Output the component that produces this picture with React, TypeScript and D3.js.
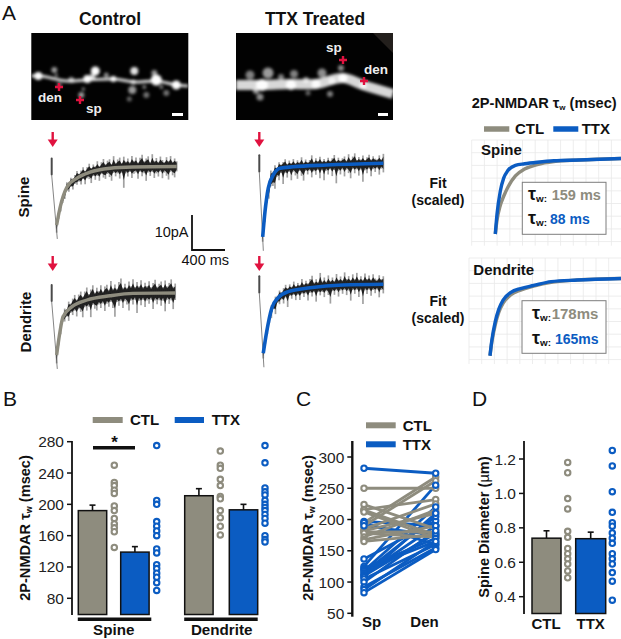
import React from "react";
import * as d3 from "d3";

const GRAY = "#8e8c7e";
const BLUE = "#0b5cc2";
const RED = "#e0123f";
const FONT = "'Liberation Sans', Arial, sans-serif";

// Panel B
const barGroupsB = ["Spine", "Dendrite"];
const barsCtlB = [192, 211];
const barsTtxB = [139, 193];
const errCtlB = [199, 220];
const errTtxB = [146, 200];
const ptsCtlSpine = [250, 228, 224, 218, 214, 198, 192, 182, 175, 170, 165, 145];
const ptsTtxSpine = [275, 205, 200, 178, 172, 166, 160, 143, 138, 123, 118, 112, 107, 100, 90];
const ptsCtlDend = [268, 250, 246, 232, 224, 210, 207, 192, 183, 172, 161];
const ptsTtxDend = [275, 253, 221, 216, 212, 205, 200, 196, 192, 187, 182, 176, 160, 155, 152];
const ticksB = [80, 120, 160, 200, 240, 280];

// Panel C
const ctlSp = [250, 224, 216, 215, 212, 195, 190, 185, 182, 180, 178, 172, 168, 165];
const ctlDen = [250, 185, 232, 175, 170, 268, 262, 225, 210, 180, 172, 215, 190, 176];
const ttxSp = [282, 197, 195, 190, 137, 125, 122, 120, 118, 115, 112, 110, 108, 105, 100, 92, 88, 83];
const ttxDen = [274, 190, 160, 175, 198, 255, 170, 165, 220, 205, 190, 178, 210, 160, 182, 155, 165, 152];
const ticksC = [50, 100, 150, 200, 250, 300];

// Panel D
const diamBars = [0.74, 0.737];
const diamErr = [0.783, 0.775];
const diamLabels = ["CTL", "TTX"];
const diamCtl = [1.18, 1.12, 0.97, 0.91, 0.78, 0.745, 0.68, 0.65, 0.62, 0.59, 0.55, 0.51];
const diamTtx = [1.25, 1.16, 1.01, 0.89, 0.83, 0.81, 0.77, 0.74, 0.71, 0.65, 0.62, 0.59, 0.54, 0.49, 0.38];
const ticksD = [0.4, 0.6, 0.8, 1.0, 1.2];

// Recorded traces (time ms, current pA, read against the 400 ms / 10 pA scale bar)
const fitTimeCS = [60, 100, 185, 307, 464, 707, 985, 1515];
const fitCS = [-16.7, -11.9, -5.9, -3.3, -1.6, -0.5, -0.15, 0];
const fitTimeCD = [60, 100, 137, 246, 428, 707, 985, 1497];
const fitCD = [-17.7, -11.1, -6.8, -3.9, -2, -0.8, -0.1, 0];
const fitTimeTS = [41, 69, 109, 170, 251, 408, 817, 1504];
const fitTS = [-21, -13.8, -7.1, -3.3, -1.4, -1, -0.5, 0];
const fitTimeTD = [48, 90, 150, 230, 351, 615, 1015, 1503];
const fitTD = [-19.7, -13.5, -6.9, -3.8, -2.1, -1, -0.2, 0];

const upCS = [0.5,0.7,0.5,1.0,0.6,1.5,0.8,1.7,0.9,1.4,2.0,1.0,1.6,2.3,1.0,1.8,2.5,1.1,2.0,1.4,2.7,1.2,2.2,3.0,1.4,2.3,2.6,1.2,3.4,1.5,2.4,2.9,1.3,3.1,1.7,2.5,1.4,3.2,1.8,2.7,1.3,2.6,3.5,1.6,2.4,3.0,1.3,3.6,1.7,2.5,1.4,2.9,1.9,1.3,2.7,1.6,3.0,1.4,2.3,1.5];
const dnCS = [2.2,1.2,1.6,0.9,1.5,1.0,1.8,1.0,2.2,1.2,1.9,1.3,2.4,1.1,2.8,1.4,1.9,3.2,1.3,2.5,1.5,3.0,1.2,2.3,2.8,1.5,2.5,3.6,1.4,2.4,1.6,3.1,1.5,5.8,1.7,2.6,1.4,3.1,1.9,1.6,3.4,1.4,2.7,1.8,4.0,1.6,2.6,1.5,3.2,1.9,2.8,1.4,3.3,1.7,2.6,3.7,1.5,2.5,3.1,1.4];
const upCD = [0.6,0.8,1.3,0.8,1.8,1.0,2.5,1.3,2.2,3.0,1.4,2.6,3.2,1.5,2.7,3.6,1.6,2.8,3.9,1.7,3.0,1.9,3.5,1.6,2.9,3.3,1.8,4.2,2.0,3.1,1.8,3.7,4.6,1.9,3.0,1.8,3.5,2.1,4.0,1.8,3.2,2.0,3.7,1.8,3.0,2.1,3.4,1.7,2.9,3.8,1.8,2.7,3.3,1.7,3.6,1.9,2.9,3.9,1.8,2.7];
const dnCD = [2.4,1.3,1.7,1.0,1.9,1.2,3.0,1.4,2.5,1.5,3.4,1.6,2.6,4.4,1.8,3.0,2.0,5.1,1.7,2.9,3.5,1.9,3.0,1.8,4.1,2.1,3.1,1.8,3.6,6.1,2.0,3.1,1.9,3.9,2.0,3.0,4.8,2.0,3.2,1.8,5.6,2.1,3.4,1.9,3.9,2.1,3.0,1.9,4.5,2.1,3.2,2.0,3.6,2.2,5.2,1.9,3.1,2.1,4.6,2.0];
const upTS = [0.7,1.3,2.5,1.1,3.1,1.2,2.3,1.0,2.0,1.0,1.7,2.4,1.0,1.9,1.1,2.2,1.0,1.8,1.2,2.6,1.0,1.9,1.1,1.7,3.0,1.1,2.1,1.3,2.5,1.1,1.8,1.0,2.1,1.2,1.9,2.8,1.1,2.0,1.2,1.8,2.3,1.1,2.9,1.3,2.2,3.1,1.2,2.0,1.3,2.4,1.1,1.9,2.6,1.2,2.1,1.4,1.2,2.3,1.1,2.7];
const dnTS = [1.4,2.2,1.1,3.4,1.4,2.9,4.4,1.6,3.2,1.4,4.6,1.5,2.9,1.3,3.8,1.4,2.5,3.5,1.3,2.7,4.1,1.4,2.4,1.3,3.3,1.6,2.6,1.3,3.7,1.4,4.3,1.6,2.7,1.3,3.2,1.5,5.3,1.7,2.8,1.4,3.4,1.5,2.5,4.0,1.4,2.6,1.5,3.3,1.6,5.1,1.8,2.7,1.4,3.6,1.6,2.4,1.4,3.2,1.5,2.6];
const upTD = [0.4,0.7,1.0,0.7,1.3,0.8,1.6,0.9,1.8,1.0,1.8,2.4,1.1,2.0,1.2,2.6,1.2,2.0,1.3,2.9,1.3,2.2,1.4,2.5,3.4,1.4,2.3,1.4,4.0,1.5,2.6,1.4,3.1,1.5,2.4,1.4,3.3,1.6,2.5,1.4,3.6,1.7,2.5,1.4,3.0,1.6,3.4,1.5,2.4,1.4,3.2,1.6,2.6,1.4,2.9,1.7,1.4,2.6,1.5,2.3];
const dnTD = [1.5,0.9,1.5,1.0,2.4,1.0,3.4,1.2,2.1,1.1,2.6,1.2,4.3,1.3,2.2,1.2,2.8,1.4,3.0,1.3,2.3,1.4,3.5,1.4,2.5,1.4,4.1,1.4,2.4,1.5,3.0,1.4,2.5,5.0,1.5,2.6,1.4,3.2,1.5,2.5,1.4,2.9,1.6,4.5,1.5,2.6,1.4,3.5,1.6,5.5,1.6,2.7,1.5,3.2,1.6,2.5,1.5,3.7,1.6,2.6];

// Scaled fits (panels at right): time ms, fraction of peak
const scaledTime = [0, 20, 60, 100, 150, 240, 350, 500, 700, 1000, 1500];
const scaledSpineCtl = [0, 0.18, 0.38, 0.5, 0.62, 0.77, 0.86, 0.92, 0.96, 0.98, 1];
const scaledSpineTtx = [0, 0.26, 0.57, 0.74, 0.84, 0.91, 0.93, 0.95, 0.97, 0.98, 1];
const scaledDendCtl = [0, 0.17, 0.4, 0.56, 0.68, 0.79, 0.85, 0.9, 0.95, 0.98, 1];
const scaledDendTtx = [0, 0.19, 0.44, 0.6, 0.72, 0.82, 0.87, 0.91, 0.96, 0.98, 1];

// Microscope images: dendrite paths and puncta (x, y in image px, r, brightness)
type Blob = [number, number, number, number];
const dendControl: [number, number][] = [[0, 43], [10, 43], [35, 48], [55, 47], [83, 46], [103, 49], [125, 48], [145, 52], [157, 53]];
const dendTtx: [number, number][] = [[0, 52], [27, 52], [54, 51], [80, 51], [107, 45], [127, 52], [157, 61]];
const blobsControl: Blob[] = [
  [7, 43, 4, 1], [23, 37, 3, 0.6], [25, 42, 1.5, 0.6], [56, 46, 4, 1], [64, 38, 4.5, 1], [61, 44, 3, 0.8],
  [82, 46, 3, 1], [103, 38, 4, 0.9], [125, 47, 5.5, 1], [123, 40, 3, 0.6], [101, 57, 4, 0.6], [102, 49, 2.5, 0.7],
  [115, 62, 3, 0.45], [113, 54, 2, 0.5], [135, 60, 3, 0.45], [130, 54, 2, 0.5], [145, 52, 4.5, 1], [50, 62, 3, 0.6],
  [52, 56, 1.6, 0.6], [28, 52, 2.5, 0.45], [75, 42, 2.5, 0.55], [98, 66, 2.5, 0.4], [40, 47, 3, 0.6],
];
const blobsTtx: Blob[] = [
  [32, 40, 5.5, 0.6], [14, 42, 4.5, 0.5], [26, 52, 6, 0.95], [24, 64, 3.5, 0.55], [58, 41, 4, 0.5], [55, 52, 5, 0.95],
  [86, 40, 4.5, 0.55], [80, 51, 4.5, 0.9], [94, 61, 3, 0.5], [107, 45, 4.5, 1], [105, 35, 3, 0.55], [127, 53, 3.5, 0.75],
  [70, 47, 3, 0.6], [45, 44, 3, 0.5], [72, 60, 2.5, 0.4], [20, 58, 3, 0.6], [96, 48, 3.5, 0.7],
];

const WIDTH = 621;
const HEIGHT = 639;

function Tau({ x, y, size = 14, fill = "#111" }: { x: number; y: number; size?: number; fill?: string }) {
  return (
    <text x={x} y={y} fontFamily={FONT} fontWeight={700} fontSize={size} fill={fill}>
      τ<tspan fontSize={size * 0.55} dy={2}>w:</tspan>
    </text>
  );
}

function TraceView(props: {
  x0: number; y0: number; t: number[]; v: number[]; up: number[]; dn: number[]; color: string;
}) {
  const { x0, y0, t, v, up, dn, color } = props;
  const x = d3.scaleLinear().domain([0, 400]).range([x0, x0 + 33]);
  const y = d3.scaleLinear().domain([-10, 0]).range([y0 + 35, y0]);
  const fitAt = d3.scaleLinear().domain(t).range(v);
  const first = t[0];
  const last = t[t.length - 1];
  const times = up.map((_, i) => first + (i * (last - first)) / (up.length - 1));
  const core = d3.area<number>().x((_, i) => x(times[i])).y0((_, i) => y(fitAt(times[i]) - dn[i] * 0.62)).y1((_, i) => y(fitAt(times[i]) + up[i] * 0.72));
  const fit = d3.line<number>().x((_, i) => x(t[i])).y((d) => y(d)).curve(d3.curveMonotoneX);
  return (
    <g>
      <rect x={x(-12)} y={y(2.6)} width={x(12) - x(-12)} height={y(-2.6) - y(2.6)} rx={1} fill="#2a2a2a" opacity={0.85} />
      <line x1={x(0)} x2={x(first + 8)} y1={y(-2.5)} y2={y(v[0] - 4)} stroke="#666" strokeWidth={0.8} />
      {up.map((u, i) => (
        <line key={i} x1={x(times[i])} x2={x(times[i])} y1={y(fitAt(times[i]) + u)} y2={y(fitAt(times[i]) - dn[i])} stroke="#555" strokeWidth={1.7} opacity={0.55} />
      ))}
      <path d={core(up) ?? ""} fill="#0c0c0c" opacity={0.88} />
      <path d={fit(v) ?? ""} fill="none" stroke={color} strokeWidth={color === BLUE ? 3.6 : 3.4} />
    </g>
  );
}

function Arrow({ x, y }: { x: number; y: number }) {
  return (
    <g fill={RED} stroke={RED}>
      <line x1={x} x2={x} y1={y} y2={y + 9} strokeWidth={2.4} />
      <path d={`M${x - 5},${y + 7.5}L${x + 5},${y + 7.5}L${x},${y + 15}Z`} stroke="none" />
    </g>
  );
}

function Micrograph(props: { x: number; id: string; path: [number, number][]; blobs: Blob[]; w: number; children?: React.ReactNode }) {
  const { x, id, path, blobs, w, children } = props;
  const sx = d3.scaleLinear().domain([0, 157]).range([x, x + 157]);
  const sy = d3.scaleLinear().domain([0, 87]).range([33, 120]);
  const ln = d3.line<[number, number]>().x((d) => sx(d[0])).y((d) => sy(d[1])).curve(d3.curveCatmullRom);
  return (
    <g>
      <clipPath id={`clip-${id}`}><rect x={x} y={33} width={157} height={87} /></clipPath>
      <rect x={x} y={33} width={157} height={87} fill="#020202" />
      <g clipPath={`url(#clip-${id})`}>
        <g filter="url(#soft)">
          <path d={ln(path) ?? ""} fill="none" stroke="#d8d8d8" strokeWidth={w} />
          {blobs.map((b, i) => (
            <circle key={i} cx={sx(b[0])} cy={sy(b[1])} r={b[2]} fill="#fff" opacity={b[3]} />
          ))}
        </g>
      </g>
      {children}
    </g>
  );
}

function Plus({ x, y }: { x: number; y: number }) {
  return <path d={`M${x - 4},${y}H${x + 4}M${x},${y - 4}V${y + 4}`} stroke={RED} strokeWidth={2.4} />;
}

function ScaledPanel(props: {
  x0: number; x1: number; y0: number; y1: number; startX: number; bottomY: number; topY: number;
  ctl: number[]; ttx: number[]; box: [number, number, number, number];
}) {
  const { x0, x1, y0, y1, startX, bottomY, topY, ctl, ttx, box } = props;
  const x = d3.scaleLinear().domain([0, 1500]).range([startX, 621]);
  const y = d3.scaleLinear().domain([0, 1]).range([bottomY, topY]);
  const line = d3.line<number>().x((_, i) => x(scaledTime[i])).y((d) => y(d)).curve(d3.curveMonotoneX);
  const vs = d3.range(x0, x1 + 0.1, 12.7);
  const hs = d3.range(y0, y1 + 0.1, 12.7);
  return (
    <g>
      {vs.map((v) => <line key={v} x1={v} x2={v} y1={y0} y2={y1} stroke="#e8e8e8" strokeWidth={0.8} />)}
      {hs.map((h) => <line key={h} x1={x0} x2={x1} y1={h} y2={h} stroke="#e8e8e8" strokeWidth={0.8} />)}
      <path d={line(ctl) ?? ""} fill="none" stroke={GRAY} strokeWidth={3.4} />
      <path d={line(ttx) ?? ""} fill="none" stroke={BLUE} strokeWidth={3.4} />
      <rect x={box[0]} y={box[1]} width={box[2]} height={box[3]} fill="#fff" stroke="#7d7d7d" strokeWidth={1} />
    </g>
  );
}

function Dots({ values, x, y, color }: { values: number[]; x: number; y: (v: number) => number; color: string }) {
  return (
    <g>
      {values.map((v, i) => (
        <circle key={i} cx={x} cy={y(v)} r={2.7} fill="#fff" stroke={color} strokeWidth={2.1} />
      ))}
    </g>
  );
}

function Bar({ x, w, top, bottom, err, color }: { x: number; w: number; top: number; bottom: number; err: number; color: string }) {
  const cx = x + w / 2;
  return (
    <g>
      <line x1={cx} x2={cx} y1={top} y2={err} stroke="#111" strokeWidth={1.6} />
      <line x1={cx - 3} x2={cx + 3} y1={err} y2={err} stroke="#111" strokeWidth={1.6} />
      <rect x={x} y={top} width={w} height={bottom - top} fill={color} stroke="#111" strokeWidth={1.5} />
    </g>
  );
}

function YAxis({ x, top, bottom, ticks, y, fmt, w = 1.8 }: { x: number; top: number; bottom: number; ticks: number[]; y: (v: number) => number; fmt: (v: number) => string; w?: number }) {
  return (
    <g>
      <line x1={x} x2={x} y1={top} y2={bottom} stroke="#111" strokeWidth={w} />
      {ticks.map((t) => (
        <g key={t}>
          <line x1={x - 5} x2={x} y1={y(t)} y2={y(t)} stroke="#111" strokeWidth={1.5} />
          <text x={x - 8} y={y(t) + 5.5} textAnchor="end" fontFamily={FONT} fontSize={15.5} fill="#222">{fmt(t)}</text>
        </g>
      ))}
    </g>
  );
}

function Lbl(p: { x: number; y: number; t: string; size?: number; anchor?: string; fill?: string; weight?: number }) {
  return (
    <text x={p.x} y={p.y} textAnchor={(p.anchor ?? "middle") as any} fontFamily={FONT} fontWeight={p.weight ?? 700} fontSize={p.size ?? 15} fill={p.fill ?? "#111"}>
      {p.t}
    </text>
  );
}

function YTitle({ x, y, children, size = 14.6 }: { x: number; y: number; children: React.ReactNode; size?: number }) {
  return (
    <text transform={`translate(${x},${y}) rotate(-90)`} textAnchor="middle" fontFamily={FONT} fontWeight={700} fontSize={size} fill="#111">
      {children}
    </text>
  );
}

export default function App() {
  const yB = d3.scaleLinear().domain([80, 280]).range([598.3, 441.7]);
  const groupX = (g: string, offset: number) => (g === "Spine" ? 78.3 : 184.7) + offset;
  const yC = d3.scaleLinear().domain([50, 300]).range([613.3, 457]);
  const xC = d3.scalePoint<string>().domain(["Sp", "Den"]).range([364, 435.7]);
  const yD = d3.scaleLinear().domain([0.4, 1.2]).range([596.7, 459]);
  const linkC = (a: number, b: number) => `M${xC("Sp")},${yC(a)}L${xC("Den")},${yC(b)}`;

  return (
    <svg width={WIDTH} height={HEIGHT} viewBox={`0 0 ${WIDTH} ${HEIGHT}`} style={{ position: "absolute", left: 0, top: 0, background: "#fff" }}>
      <defs>
        <filter id="soft" x="-10%" y="-30%" width="120%" height="160%"><feGaussianBlur stdDeviation="1.8" /></filter>
      </defs>

      {/* Panel A */}
      <Lbl x={2} y={20} t="A" size={21} anchor="start" weight={400} />
      <Lbl x={110} y={25} t="Control" size={17.5} />
      <Lbl x={315} y={25} t="TTX Treated" size={17.5} />
      <Micrograph x={31.3} id="c" path={dendControl} blobs={blobsControl} w={3}>
        <Plus x={59} y={87} />
        <Plus x={80} y={100} />
        <Lbl x={50} y={102} t="den" size={13.5} fill="#eee" />
        <Lbl x={94} y={113} t="sp" size={13.5} fill="#eee" />
        <rect x={172} y={113} width={11} height={3} fill="#fff" />
      </Micrograph>
      <Micrograph x={236} id="t" path={dendTtx} blobs={blobsTtx} w={10}>
        <path d="M373,33H393V53Z" fill="#231f1c" />
        <Plus x={343} y={60} />
        <Plus x={364} y={81} />
        <Lbl x={334} y={52} t="sp" size={13.5} fill="#eee" />
        <Lbl x={376} y={74} t="den" size={13.5} fill="#eee" />
        <rect x={378} y={113} width={10} height={3} fill="#fff" />
      </Micrograph>

      <Arrow x={52.7} y={132} />
      <Arrow x={52.7} y={256} />
      <Arrow x={259.3} y={132} />
      <Arrow x={259.3} y={256} />
      <YTitle x={29} y={197} size={15}>Spine</YTitle>
      <YTitle x={31} y={322} size={15}>Dendrite</YTitle>

      <TraceView x0={51.7} y0={166.5} t={fitTimeCS} v={fitCS} up={upCS} dn={dnCS} color={GRAY} />
      <TraceView x0={51.7} y0={293} t={fitTimeCD} v={fitCD} up={upCD} dn={dnCD} color={GRAY} />
      <TraceView x0={259.3} y0={163.3} t={fitTimeTS} v={fitTS} up={upTS} dn={dnTS} color={BLUE} />
      <TraceView x0={259.3} y0={284.3} t={fitTimeTD} v={fitTD} up={upTD} dn={dnTD} color={BLUE} />

      <path d="M192,215V250H225" fill="none" stroke="#111" strokeWidth={1.8} />
      <Lbl x={188.5} y={237} t="10pA" size={14.5} anchor="end" weight={400} />
      <Lbl x={181.5} y={265} t="400 ms" size={14.5} anchor="start" weight={400} />

      {/* Scaled fits */}
      <text x={471.7} y={108} fontFamily={FONT} fontWeight={700} fontSize={14.6} fill="#111">
        2P-NMDAR τ<tspan fontSize={8} dy={2}>w</tspan><tspan dy={-2}> (msec)</tspan>
      </text>
      <line x1={484} x2={509.3} y1={129} y2={129} stroke={GRAY} strokeWidth={5.5} />
      <Lbl x={515} y={134} t="CTL" anchor="start" />
      <line x1={553.3} x2={578.3} y1={129} y2={129} stroke={BLUE} strokeWidth={5.5} />
      <Lbl x={581.7} y={134} t="TTX" anchor="start" />

      <ScaledPanel x0={471.7} x1={621} y0={140} y1={245.7} startX={495.3} bottomY={234} topY={158.5} ctl={scaledSpineCtl} ttx={scaledSpineTtx} box={[522.3, 182.3, 83.7, 52]} />
      <ScaledPanel x0={469} x1={621} y0={258} y1={364} startX={490} bottomY={355.7} topY={278.5} ctl={scaledDendCtl} ttx={scaledDendTtx} box={[522, 300.7, 84, 52.6]} />
      <Lbl x={481} y={155} t="Spine" anchor="start" />
      <Lbl x={473.3} y={275} t="Dendrite" anchor="start" />
      <Lbl x={438} y={188} t="Fit" size={14} />
      <Lbl x={438} y={205} t="(scaled)" size={14} />
      <Lbl x={438} y={306} t="Fit" size={14} />
      <Lbl x={438} y={323} t="(scaled)" size={14} />
      <Tau x={528} y={199.5} size={18} />
      <Lbl x={551.7} y={199.5} t="159 ms" anchor="start" size={14.5} fill={GRAY} />
      <Tau x={528} y={224} size={18} />
      <Lbl x={550} y={224} t="88 ms" anchor="start" size={14} fill={BLUE} />
      <Tau x={532} y={319} size={18} />
      <Lbl x={551.7} y={319} t="178ms" anchor="start" size={15} fill={GRAY} />
      <Tau x={532} y={343.5} size={18} />
      <Lbl x={555} y={343.5} t="165ms" anchor="start" size={14} fill={BLUE} />

      {/* Panel B */}
      <Lbl x={3} y={406} t="B" size={21} anchor="start" weight={400} />
      <line x1={92.7} x2={122.7} y1={420} y2={420} stroke={GRAY} strokeWidth={6} />
      <Lbl x={130} y={425} t="CTL" anchor="start" />
      <line x1={174.7} x2={204} y1={420} y2={420} stroke={BLUE} strokeWidth={6} />
      <Lbl x={211.7} y={425} t="TTX" anchor="start" />
      <YAxis x={72} top={441} bottom={615} ticks={ticksB} y={yB} fmt={String} />
      <YTitle x={30} y={528}>2P-NMDAR τ<tspan fontSize={9} dy={2}>w</tspan><tspan dy={-2}> (msec)</tspan></YTitle>
      {barGroupsB.map((g, i) => (
        <g key={g}>
          <Bar x={groupX(g, 0)} w={28.4} top={yB(barsCtlB[i])} bottom={614.5} err={yB(errCtlB[i])} color={GRAY} />
          <Bar x={groupX(g, i === 0 ? 42.4 : 44.6)} w={28.4} top={yB(barsTtxB[i])} bottom={614.5} err={yB(errTtxB[i])} color={BLUE} />
          <line x1={groupX(g, -0.5)} x2={groupX(g, 73)} y1={619.3} y2={619.3} stroke="#111" strokeWidth={3.5} />
          <Lbl x={g === "Spine" ? 113.7 : 221.7} y={635} t={g} size={15.2} />
        </g>
      ))}
      <Dots values={ptsCtlSpine} x={114.3} y={yB} color={GRAY} />
      <Dots values={ptsTtxSpine} x={156.7} y={yB} color={BLUE} />
      <Dots values={ptsCtlDend} x={220.3} y={yB} color={GRAY} />
      <Dots values={ptsTtxDend} x={265} y={yB} color={BLUE} />
      <line x1={93} x2={135} y1={447.7} y2={447.7} stroke="#111" strokeWidth={3.5} />
      <Lbl x={114.5} y={448} t="*" size={17} />

      {/* Panel C */}
      <Lbl x={296} y={406} t="C" size={21} anchor="start" weight={400} />
      <line x1={366} x2={395.7} y1={425.3} y2={425.3} stroke={GRAY} strokeWidth={6} />
      <Lbl x={402.7} y={430.5} t="CTL" anchor="start" />
      <line x1={366} x2={395.7} y1={444.3} y2={444.3} stroke={BLUE} strokeWidth={6} />
      <Lbl x={402.7} y={449.5} t="TTX" anchor="start" />
      <YAxis x={352.3} top={441} bottom={616.7} ticks={ticksC} y={yC} fmt={String} w={2.4} />
      <YTitle x={313} y={528}>2P-NMDAR τ<tspan fontSize={9} dy={2}>w</tspan><tspan dy={-2}> (msec)</tspan></YTitle>
      {ttxSp.map((v, i) => <path key={i} d={linkC(v, ttxDen[i])} stroke={BLUE} strokeWidth={2.8} fill="none" />)}
      {ctlSp.map((v, i) => <path key={i} d={linkC(v, ctlDen[i])} stroke={GRAY} strokeWidth={2.8} fill="none" />)}
      <Dots values={ctlSp} x={xC("Sp")!} y={yC} color={GRAY} />
      <Dots values={ctlDen} x={xC("Den")!} y={yC} color={GRAY} />
      <Dots values={ttxSp} x={xC("Sp")!} y={yC} color={BLUE} />
      <Dots values={ttxDen} x={xC("Den")!} y={yC} color={BLUE} />
      <Lbl x={371.7} y={627} t="Sp" />
      <Lbl x={424.5} y={627} t="Den" />

      {/* Panel D */}
      <Lbl x={472} y={406} t="D" size={21} anchor="start" weight={400} />
      <YAxis x={524} top={441} bottom={614} ticks={ticksD} y={yD} fmt={(v) => v.toFixed(1)} />
      <YTitle x={489} y={527}>Spine Diameter (<tspan fontWeight={400}>µ</tspan>m)</YTitle>
      {diamLabels.map((l, i) => (
        <g key={l}>
          <Bar x={i === 0 ? 532 : 575.7} w={i === 0 ? 29 : 30} top={yD(diamBars[i])} bottom={613.5} err={yD(diamErr[i])} color={i === 0 ? GRAY : BLUE} />
          <Lbl x={i === 0 ? 546 : 590.7} y={629} t={l} />
        </g>
      ))}
      <Dots values={diamCtl} x={567.7} y={yD} color={GRAY} />
      <Dots values={diamTtx} x={612.3} y={yD} color={BLUE} />
    </svg>
  );
}
